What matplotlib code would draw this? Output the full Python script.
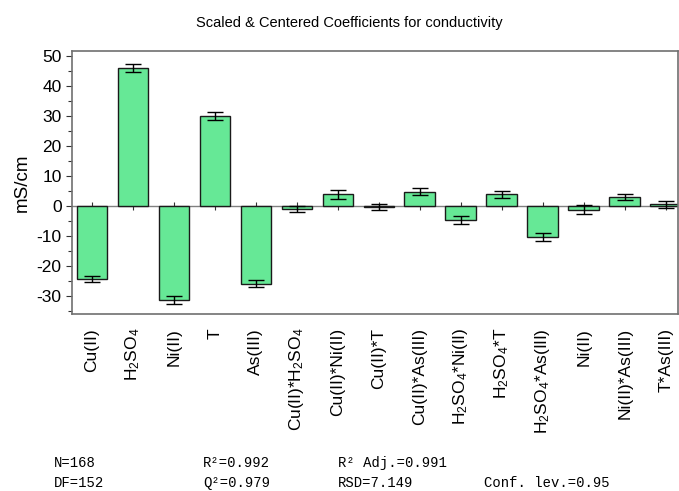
import matplotlib

matplotlib.use("Agg")
import matplotlib.pyplot as plt
from matplotlib.ticker import MultipleLocator

plt.rcParams["font.family"] = ["Liberation Sans", "DejaVu Sans"]
plt.rcParams["mathtext.fontset"] = "custom"
plt.rcParams["mathtext.rm"] = "Liberation Sans"
plt.rcParams["mathtext.it"] = "Liberation Sans"
plt.rcParams["axes.unicode_minus"] = False

terms = [
    "Cu(II)", "H$_2$SO$_4$", "Ni(II)", "T", "As(III)",
    "Cu(II)*H$_2$SO$_4$", "Cu(II)*Ni(II)", "Cu(II)*T", "Cu(II)*As(III)",
    "H$_2$SO$_4$*Ni(II)", "H$_2$SO$_4$*T", "H$_2$SO$_4$*As(III)", "Ni(II)",
    "Ni(II)*As(III)", "T*As(III)",
]
coef = [-24.4, 46.1, -31.4, 30.0, -25.9, -1.0, 3.9, -0.3, 4.8,
        -4.7, 3.9, -10.3, -1.3, 3.0, 0.6]
conf = [1.0, 1.4, 1.3, 1.3, 1.1, 1.1, 1.4, 1.1, 1.2,
        1.4, 1.1, 1.3, 1.5, 1.1, 1.1]

stats_row1 = ["N=168", "R\u00b2=0.992", "R\u00b2 Adj.=0.991", ""]
stats_row2 = ["DF=152", "Q\u00b2=0.979", "RSD=7.149", "Conf. lev.=0.95"]

fig = plt.figure(figsize=(6.79, 4.91), dpi=100)
ax = fig.add_axes([0.106, 0.3605, 0.8925, 0.5355])

x = range(len(terms))
ax.bar(x, coef, width=0.75, color="#66e896", edgecolor="#1a1a1a", linewidth=1.0, zorder=2)
ax.errorbar(x, coef, yerr=conf, fmt="none", ecolor="black", elinewidth=1.0,
            capsize=6, capthick=1.0, zorder=3)
ax.axhline(0, color="#808080", linewidth=1.0, zorder=1)
ax.plot(x, [0] * len(terms), linestyle="none", marker="|", markersize=6,
        color="#333333", markeredgewidth=0.8, zorder=1)

ax.set_xlim(-0.49, 14.3)
ax.set_ylim(-36, 51.7)
ax.yaxis.set_major_locator(MultipleLocator(10))
ax.yaxis.set_minor_locator(MultipleLocator(5))
ax.tick_params(axis="y", labelsize=12.5, length=4, width=0.8, color="#333333")
ax.tick_params(axis="y", which="minor", length=3, width=0.8, color="#333333")
ax.set_xticks(list(x))
ax.set_xticklabels(terms, rotation=90, fontsize=12.5, va="top", ha="center")
ax.tick_params(axis="x", length=0, pad=10)
for s in ax.spines.values():
    s.set_color("#707070")
    s.set_linewidth(1.2)

ax.set_ylabel("mS/cm", fontsize=13.5, labelpad=4)
fig.text(0.515, 0.953, "Scaled & Centered Coefficients for conductivity",
         ha="center", va="center", fontsize=10.5)

xs = [54, 203, 338, 484]
for xp, t1, t2 in zip(xs, stats_row1, stats_row2):
    fig.text(xp / 679, 1 - 463 / 491, t1, family="Liberation Mono", fontsize=10, va="center")
    fig.text(xp / 679, 1 - 483 / 491, t2, family="Liberation Mono", fontsize=10, va="center")

fig.savefig("out.png", dpi=100, facecolor="white")
